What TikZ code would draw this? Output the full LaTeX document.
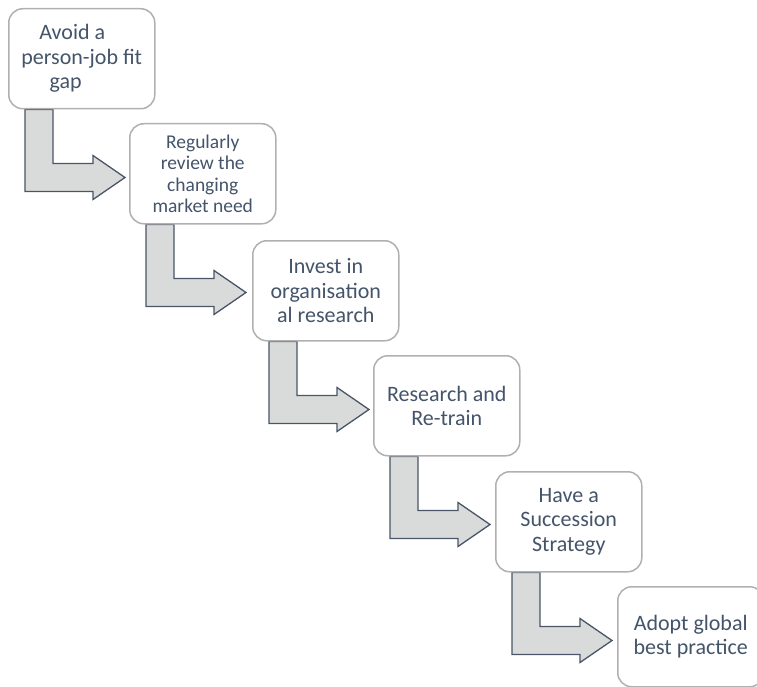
\documentclass[tikz,border=0pt]{standalone}
\usepackage{fontspec}
\setmainfont{Carlito}
\usetikzlibrary{calc,backgrounds}
\definecolor{txt}{HTML}{44546A}
\definecolor{arrfill}{HTML}{D9DADA}
\definecolor{arrline}{HTML}{4A5568}
\definecolor{boxline}{HTML}{B0B0B0}
\tikzset{
  stepbox/.style={draw=boxline, line width=1.5pt, fill=white, rounded corners=14pt,
    minimum width=146pt, minimum height=100pt, inner sep=0pt, align=center,
    text=txt, anchor=north west, font=\fontsize{22}{24.5}\selectfont},
  smalltext/.style={font=\fontsize{19.5}{21.5}\selectfont},
  bentarrow/.style={fill=arrfill, draw=arrline, line width=1.3pt, line join=miter},
}
\newcommand{\bentarr}[1]{%
  \draw[bentarrow] ($(#1.south west)+(17,0)$) -- ++(28,0) -- ++(0,54) -- ++(40,0)
    -- ++(0,-8) -- ++(32,22) -- ++(-32,22) -- ++(0,-8) -- ++(-68,0) -- cycle;}
\begin{document}
\begin{tikzpicture}[x=1pt,y=-1pt]
\useasboundingbox (0,0) rectangle (757,687);
\clip (0,0) rectangle (757,687);
\node[stepbox] (b1) at (8,8) {Avoid a\kern19pt\\person-job fit\\gap\kern32pt};
\node[stepbox,smalltext] (b2) at (129,123) {Regularly\\review the\\changing\\market need};
\node[stepbox] (b3) at (252,240) {Invest in\\organisation\\al research};
\node[stepbox] (b4) at (373,355) {Research and\\Re-train};
\node[stepbox] (b5) at (495,471) {Have a\\Succession\\Strategy};
\node[stepbox] (b6) at (617,586) {Adopt global\\best practice};
\begin{pgfonlayer}{background}
\bentarr{b1}
\bentarr{b2}
\bentarr{b3}
\bentarr{b4}
\bentarr{b5}
\end{pgfonlayer}
\end{tikzpicture}
\end{document}
